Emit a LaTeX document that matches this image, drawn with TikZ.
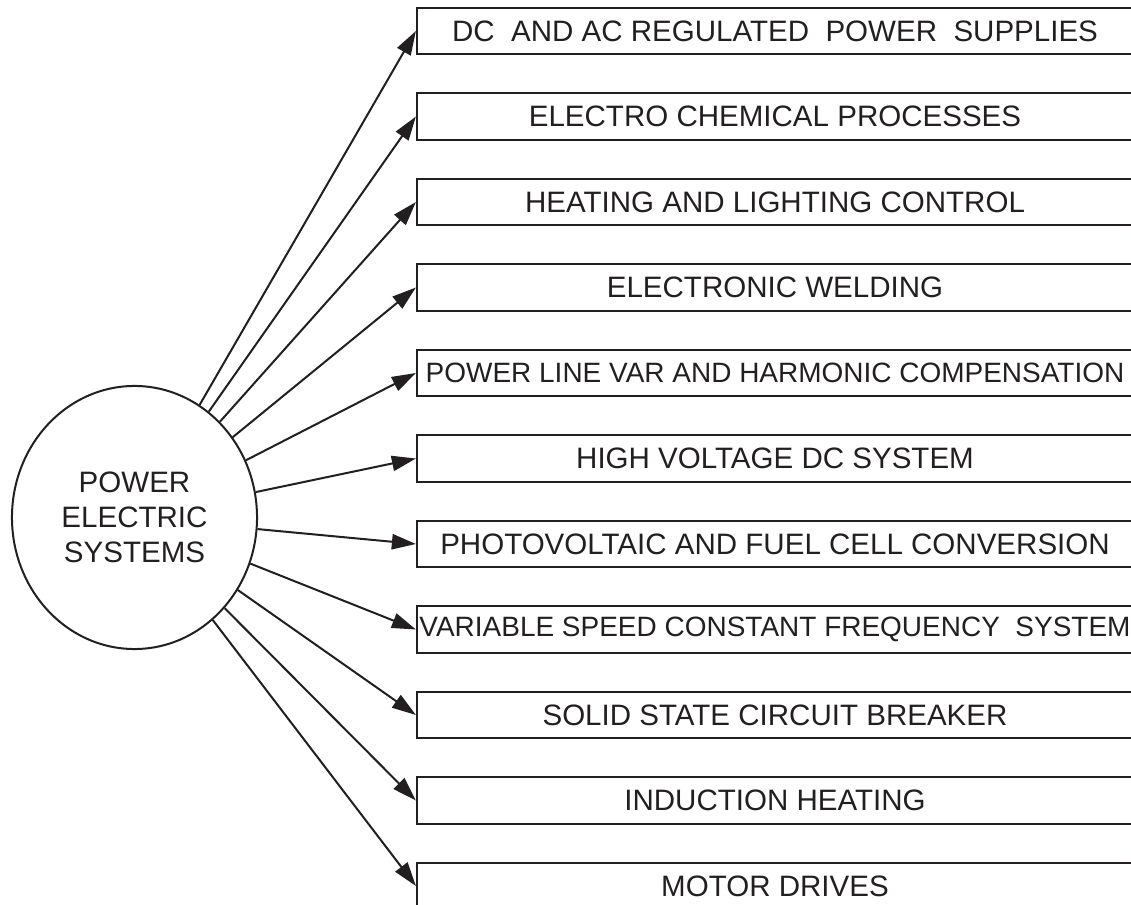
\documentclass[tikz,border=0pt]{standalone}
\usepackage{fontspec}
\setmainfont{Liberation Sans}
\usetikzlibrary{arrows.meta,shapes.geometric}
\definecolor{ink}{RGB}{35,31,32}

\begin{document}
\begin{tikzpicture}[x=0.025cm,y=-0.025cm,
  font=\fontsize{21}{25}\selectfont,
  sysnode/.style={ellipse,draw=ink,line width=0.05cm,text=ink,align=center,inner sep=0pt,
    minimum width=6.125cm,minimum height=6.575cm,font=\fontsize{21}{24.9}\selectfont},
  appbox/.style={rectangle,draw=ink,line width=0.05cm,text=ink,inner sep=0pt,
    minimum width=17.9cm,minimum height=1.15cm},
  tight/.style={font=\fontsize{19.9}{24}\selectfont},
  feed/.style={-{Triangle[length=0.6cm,width=0.38cm]},draw=ink,line width=0.05cm},
]
\useasboundingbox (0,0) rectangle (1131,905);

% ---------------- source ----------------
\coordinate (S) at (134.5,517.5);
\node[sysnode] (sys) at (S) {POWER\\ELECTRIC\\SYSTEMS};

% ---------------- applications ----------------
\coordinate (p1) at (775,31);
\coordinate (p2) at (775,116.5);
\coordinate (p3) at (775,202);
\coordinate (p4) at (775,287.5);
\coordinate (p5) at (775,373);
\coordinate (p6) at (775,458.5);
\coordinate (p7) at (775,544);
\coordinate (p8) at (775,629.5);
\coordinate (p9) at (775,715);
\coordinate (p10) at (775,800.5);
\coordinate (p11) at (775,886);
\node[appbox] (app1) at (p1) {DC~ AND AC REGULATED~ POWER~ SUPPLIES};
\node[appbox] (app2) at (p2) {ELECTRO CHEMICAL PROCESSES};
\node[appbox] (app3) at (p3) {HEATING AND LIGHTING CONTROL};
\node[appbox] (app4) at (p4) {ELECTRONIC WELDING};
\node[appbox,tight] (app5) at (p5) {POWER LINE VAR AND HARMONIC COMPENSATION};
\node[appbox] (app6) at (p6) {HIGH VOLTAGE DC SYSTEM};
\node[appbox] (app7) at (p7) {PHOTOVOLTAIC AND FUEL CELL CONVERSION};
\node[appbox,tight] (app8) at (p8) {VARIABLE SPEED CONSTANT FREQUENCY~ SYSTEM};
\node[appbox] (app9) at (p9) {SOLID STATE CIRCUIT BREAKER};
\node[appbox] (app10) at (p10) {INDUCTION HEATING};
\node[appbox] (app11) at (p11) {MOTOR DRIVES};

% ---------------- arrows ----------------
\draw[feed] (sys) -- (app1.west);
\draw[feed] (sys) -- (app2.west);
\draw[feed] (sys) -- (app3.west);
\draw[feed] (sys) -- (app4.west);
\draw[feed] (sys) -- (app5.west);
\draw[feed] (sys) -- (app6.west);
\draw[feed] (sys) -- (app7.west);
\draw[feed] (sys) -- (app8.west);
\draw[feed] (sys) -- (app9.west);
\draw[feed] (sys) -- (app10.west);
\draw[feed] (sys) -- (app11.west);
\end{tikzpicture}
\end{document}
